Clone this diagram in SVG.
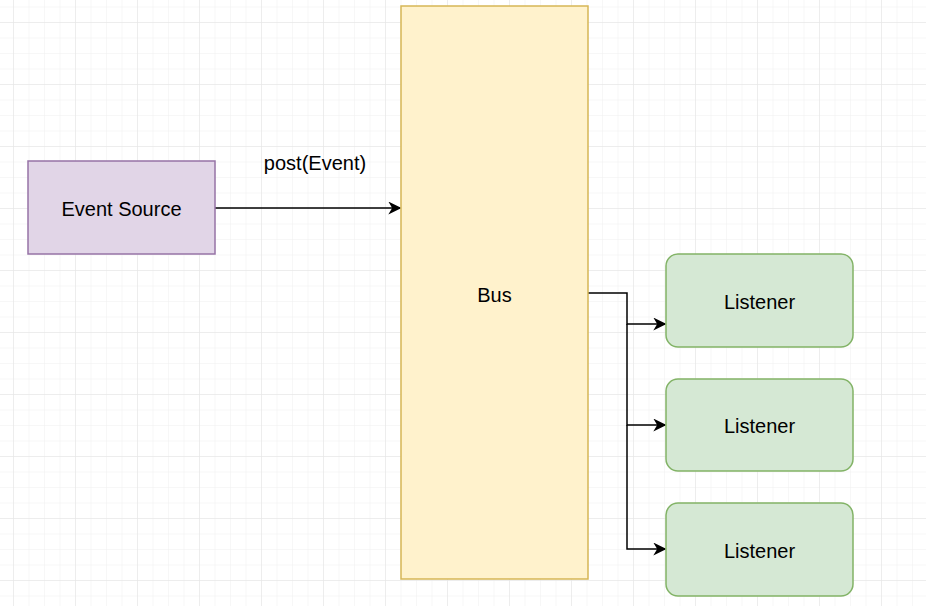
<svg xmlns="http://www.w3.org/2000/svg" width="926" height="606" viewBox="0 0 926 606">
<defs>
<pattern id="minor" x="-2.5" y="6.5" width="15.5" height="15.5" patternUnits="userSpaceOnUse">
<path d="M15.5 0H0V15.5" fill="none" stroke="#f0f0f0" stroke-width="1"/>
</pattern>
<pattern id="major" x="13" y="22" width="62" height="62" patternUnits="userSpaceOnUse">
<path d="M62 0H0V62" fill="none" stroke="#e4e4e4" stroke-width="1"/>
</pattern>
<marker id="arr" viewBox="0 0 10 10" refX="9" refY="5" markerWidth="13" markerHeight="13" markerUnits="userSpaceOnUse" orient="auto">
<path d="M0 0L10 5L0 10L3 5Z" fill="#000"/>
</marker>
</defs>
<style>
text{font-family:"Liberation Sans",Arial,sans-serif;font-size:20px;fill:#000;text-anchor:middle;dominant-baseline:central}
.src{fill:#e1d5e7;stroke:#9673a6;stroke-width:1.5}
.bus{fill:#fff2cc;stroke:#d6b656;stroke-width:1.5}
.lis{fill:#d5e8d4;stroke:#82b366;stroke-width:1.5}
.edge{fill:none;stroke:#000;stroke-width:1.5}
</style>
<rect width="926" height="606" fill="#fff"/>
<rect width="926" height="606" fill="url(#minor)"/>
<rect width="926" height="606" fill="url(#major)"/>
<g id="connectors">
<path class="edge" d="M215 208H400" marker-end="url(#arr)"/>
<text x="315" y="163">post(Event)</text>
<path class="edge" d="M588 293H627V324H665" marker-end="url(#arr)"/>
<path class="edge" d="M627 324V425H665" marker-end="url(#arr)"/>
<path class="edge" d="M627 425V549H665" marker-end="url(#arr)"/>
</g>
<g id="event-source">
<rect class="src" x="28" y="161" width="187" height="93"/>
<text x="121.5" y="209">Event Source</text>
</g>
<g id="bus">
<rect class="bus" x="401" y="6" width="187" height="573"/>
<text x="494.5" y="295">Bus</text>
</g>
<g id="listener1">
<rect class="lis" x="666" y="254" width="187" height="93" rx="12"/>
<text x="759.5" y="302">Listener</text>
</g>
<g id="listener2">
<rect class="lis" x="666" y="379" width="187" height="92" rx="12"/>
<text x="759.5" y="426">Listener</text>
</g>
<g id="listener3">
<rect class="lis" x="666" y="503" width="187" height="93" rx="12"/>
<text x="759.5" y="551">Listener</text>
</g>
</svg>
